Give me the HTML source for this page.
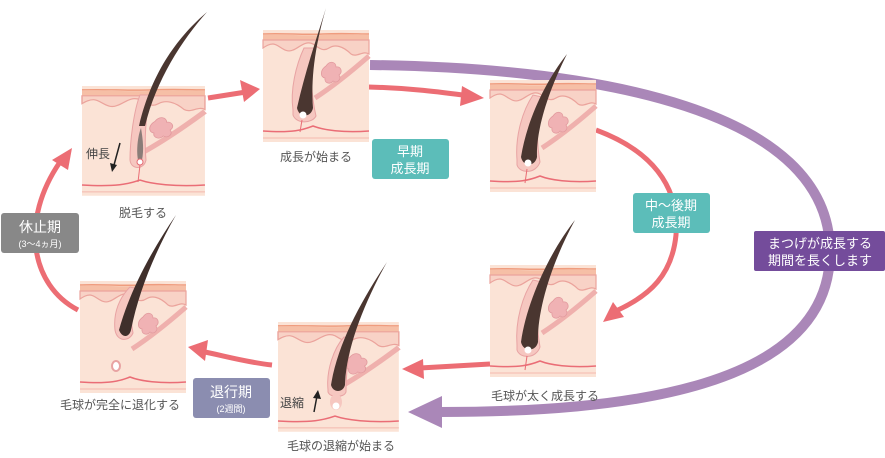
<!DOCTYPE html>
<html><head><meta charset="utf-8"><style>
html,body{margin:0;padding:0;background:#fff;}
svg{display:block;}
text{font-family:"Liberation Sans","Noto Sans CJK JP",sans-serif;}
</style></head><body>
<svg width="885" height="458" viewBox="0 0 885 458" xmlns="http://www.w3.org/2000/svg">
<defs>
<g id="skin">
  <rect x="0" y="0" width="106" height="112" fill="#fbe3d6"/>
  <path d="M0,5 C20,4 40,6 60,5 C80,4 95,5 106,5 V10 H0Z" fill="#f6bfa6"/>
  <path d="M0,4 C20,3 40,5 60,4 C80,3 95,4 106,4" stroke="#ef9c7e" stroke-width="1.5" fill="none"/>
  <path d="M0,10 H106 V24 C100,20 94,28 88,24 C80,16 72,14 66,18 C60,22 56,18 50,14 C42,10 36,18 30,20 C22,24 16,14 10,14 C6,14 3,16 0,18Z" fill="#f8d2c6" stroke="#eba39c" stroke-width="1.2"/>
  <path d="M106,26 C90,40 72,55 52,68" stroke="#efb0ad" stroke-width="5" fill="none"/>
  <path d="M63,36 c4,-6 10,-4 10,1 c5,-1 7,5 3,8 c3,4 -2,9 -6,6 c-3,4 -9,2 -8,-3 c-5,-1 -5,-8 1,-12z" fill="#f0b2b4" stroke="#e29a9e" stroke-width="0.8"/>
  <path d="M0,101 C30,103 40,100 50,96 C60,100 80,103 106,101" stroke="#ea6d76" stroke-width="1.5" fill="none"/>
  <path d="M0,108 H106" stroke="#f4b8ae" stroke-width="1"/>
</g>
</defs>

<path d="M370,65 C600,68 828,110 830,250 C832,390 620,412 440,412" stroke="#aa87b8" stroke-width="10" fill="none"/>
<polygon points="408,412 442,396 442,428" fill="#aa87b8"/>

<g stroke="#ec6d74" stroke-width="5" fill="none">
  <path d="M208,98 L246,92"/>
  <path d="M368,87 C410,88 440,92 470,96"/>
  <path d="M596,130 C650,150 680,185 676,235 C672,275 650,295 618,310"/>
  <path d="M490,364 L420,368"/>
  <path d="M272,365 C245,362 225,356 205,352"/>
  <path d="M78,310 C30,285 20,220 60,162"/>
</g>
<g fill="#ec6d74">
  <polygon points="260,89 240,80 244,102"/>
  <polygon points="484,98 462,86 460,106"/>
  <polygon points="603,322 624,317 613,302"/>
  <polygon points="402,369 423,359 424,379"/>
  <polygon points="188,347 208,340 205,361"/>
  <polygon points="72,148 52,160 68,170"/>
</g>

<use href="#skin" transform="translate(82,86) scale(1.16,0.98)"/>
<use href="#skin" transform="translate(263,30)"/>
<use href="#skin" transform="translate(490,80)"/>
<use href="#skin" transform="translate(490,265)"/>
<use href="#skin" transform="translate(278,322) scale(1.14,0.98)"/>
<use href="#skin" transform="translate(80,281)"/>

<!-- P1 -->
<path d="M130,160 C130,140 134,110 140,95 L150,95 C146,115 144,140 146,160 C144,170 131,170 130,160Z" fill="#f6c7c0" stroke="#e8a3a3" stroke-width="1"/>
<path d="M138,160 C136,150 138,135 141,128 C143,140 144,150 142,160Z" fill="#8a7c78"/>
<circle cx="140" cy="162" r="3" fill="#fff" stroke="#e46a72"/>
<path d="M207,12 C180,35 152,70 139,126 L145,126 C156,80 182,40 207,12Z" fill="#4a3630"/>
<path d="M140,165 L138,182" stroke="#e96d75" stroke-width="1"/>
<!-- P2 -->
<path d="M293,110 C290,90 296,65 304,48 L314,48 C310,70 311,95 316,116 C312,124 296,124 293,115Z" fill="#f6c7c0" stroke="#e8a3a3" stroke-width="1"/>
<path d="M326,8 C316,40 305,72 297,108 C299,118 311,118 313,108 C311,80 314,50 326,8Z" fill="#4a3630"/>
<circle cx="303" cy="115" r="3.5" fill="#fff"/>
<path d="M302,120 L300,132" stroke="#e96d75"/>
<!-- P3 -->
<path d="M517,160 C515,135 523,110 533,95 L542,97 C537,120 536,140 540,162 C536,174 520,174 517,165Z" fill="#f6c7c0" stroke="#e8a3a3" stroke-width="1"/>
<path d="M567,54 C545,82 527,120 521,157 C523,167 535,167 537,157 C536,130 548,92 567,54Z" fill="#4a3630"/>
<circle cx="528" cy="163" r="3.5" fill="#fff"/>
<path d="M527,169 L525,183" stroke="#e96d75"/>
<!-- P4 -->
<path d="M517,345 C515,320 523,295 533,280 L542,282 C537,305 536,325 540,347 C536,359 520,359 517,350Z" fill="#f6c7c0" stroke="#e8a3a3" stroke-width="1"/>
<path d="M575,220 C550,252 527,300 521,342 C523,352 536,352 538,342 C537,310 552,262 575,220Z" fill="#4a3630"/>
<circle cx="528" cy="350" r="3.5" fill="#fff"/>
<path d="M527,356 L525,370" stroke="#e96d75"/>
<!-- P5 -->
<path d="M328,390 C326,370 334,348 344,337 L352,339 C347,360 346,380 346,392 C344,398 330,398 328,392Z" fill="#f6c7c0" stroke="#e8a3a3" stroke-width="1"/>
<path d="M387,262 C362,300 338,342 331,385 C333,393 343,393 345,385 C346,350 363,305 387,262Z" fill="#4a3630"/>
<ellipse cx="336" cy="402" rx="6" ry="8" fill="#f6c7c0"/>
<circle cx="336" cy="406" r="3.5" fill="#fff"/>
<!-- P6 -->
<path d="M115,330 C113,312 120,297 130,287 L138,289 C132,305 130,320 133,333 C129,342 117,342 115,330Z" fill="#f6c7c0" stroke="#e8a3a3" stroke-width="1"/>
<path d="M176,215 C152,250 130,290 119,330 C122,338 129,338 131,330 C139,290 156,250 176,215Z" fill="#3f2f2b"/>
<ellipse cx="116" cy="366" rx="4" ry="5" fill="#fff" stroke="#e8a3a3" stroke-width="2"/>

<path d="M120,143 L114,165" stroke="#222" stroke-width="1.5"/>
<polygon points="112,172 110,163 117,165" fill="#222"/>
<text x="86" y="158" font-size="12" fill="#444">伸長</text>
<path d="M314,412 L317,396" stroke="#222" stroke-width="1.5"/>
<polygon points="318,390 313,398 321,399" fill="#222"/>
<text x="280" y="407" font-size="12" fill="#444">退縮</text>

<g font-size="12" fill="#555" text-anchor="middle">
<text x="143" y="217">脱毛する</text>
<text x="316" y="161">成長が始まる</text>
<text x="545" y="400">毛球が太く成長する</text>
<text x="341" y="450">毛球の退縮が始まる</text>
<text x="120" y="409">毛球が完全に退化する</text>
</g>

<rect x="372" y="139" width="77" height="40" rx="3" fill="#5cbdb9"/>
<text x="410" y="156" font-size="13" fill="#fff" text-anchor="middle">早期</text>
<text x="410" y="173" font-size="13" fill="#fff" text-anchor="middle">成長期</text>
<rect x="633" y="193" width="77" height="40" rx="3" fill="#5cbdb9"/>
<text x="671" y="210" font-size="13" fill="#fff" text-anchor="middle">中〜後期</text>
<text x="671" y="227" font-size="13" fill="#fff" text-anchor="middle">成長期</text>
<rect x="754" y="231" width="131" height="40" rx="2" fill="#744c9b"/>
<text x="820" y="248" font-size="13" fill="#fff" text-anchor="middle">まつげが成長する</text>
<text x="820" y="265" font-size="13" fill="#fff" text-anchor="middle">期間を長くします</text>
<rect x="1" y="213" width="78" height="40" rx="3" fill="#888"/>
<text x="40" y="232" font-size="14" fill="#fff" text-anchor="middle">休止期</text>
<text x="40" y="247" font-size="9" fill="#fff" text-anchor="middle">(3〜4ヵ月)</text>
<rect x="193" y="378" width="77" height="40" rx="3" fill="#8b8db0"/>
<text x="231" y="397" font-size="14" fill="#fff" text-anchor="middle">退行期</text>
<text x="231" y="412" font-size="9" fill="#fff" text-anchor="middle">(2週間)</text>
</svg>
</body></html>
